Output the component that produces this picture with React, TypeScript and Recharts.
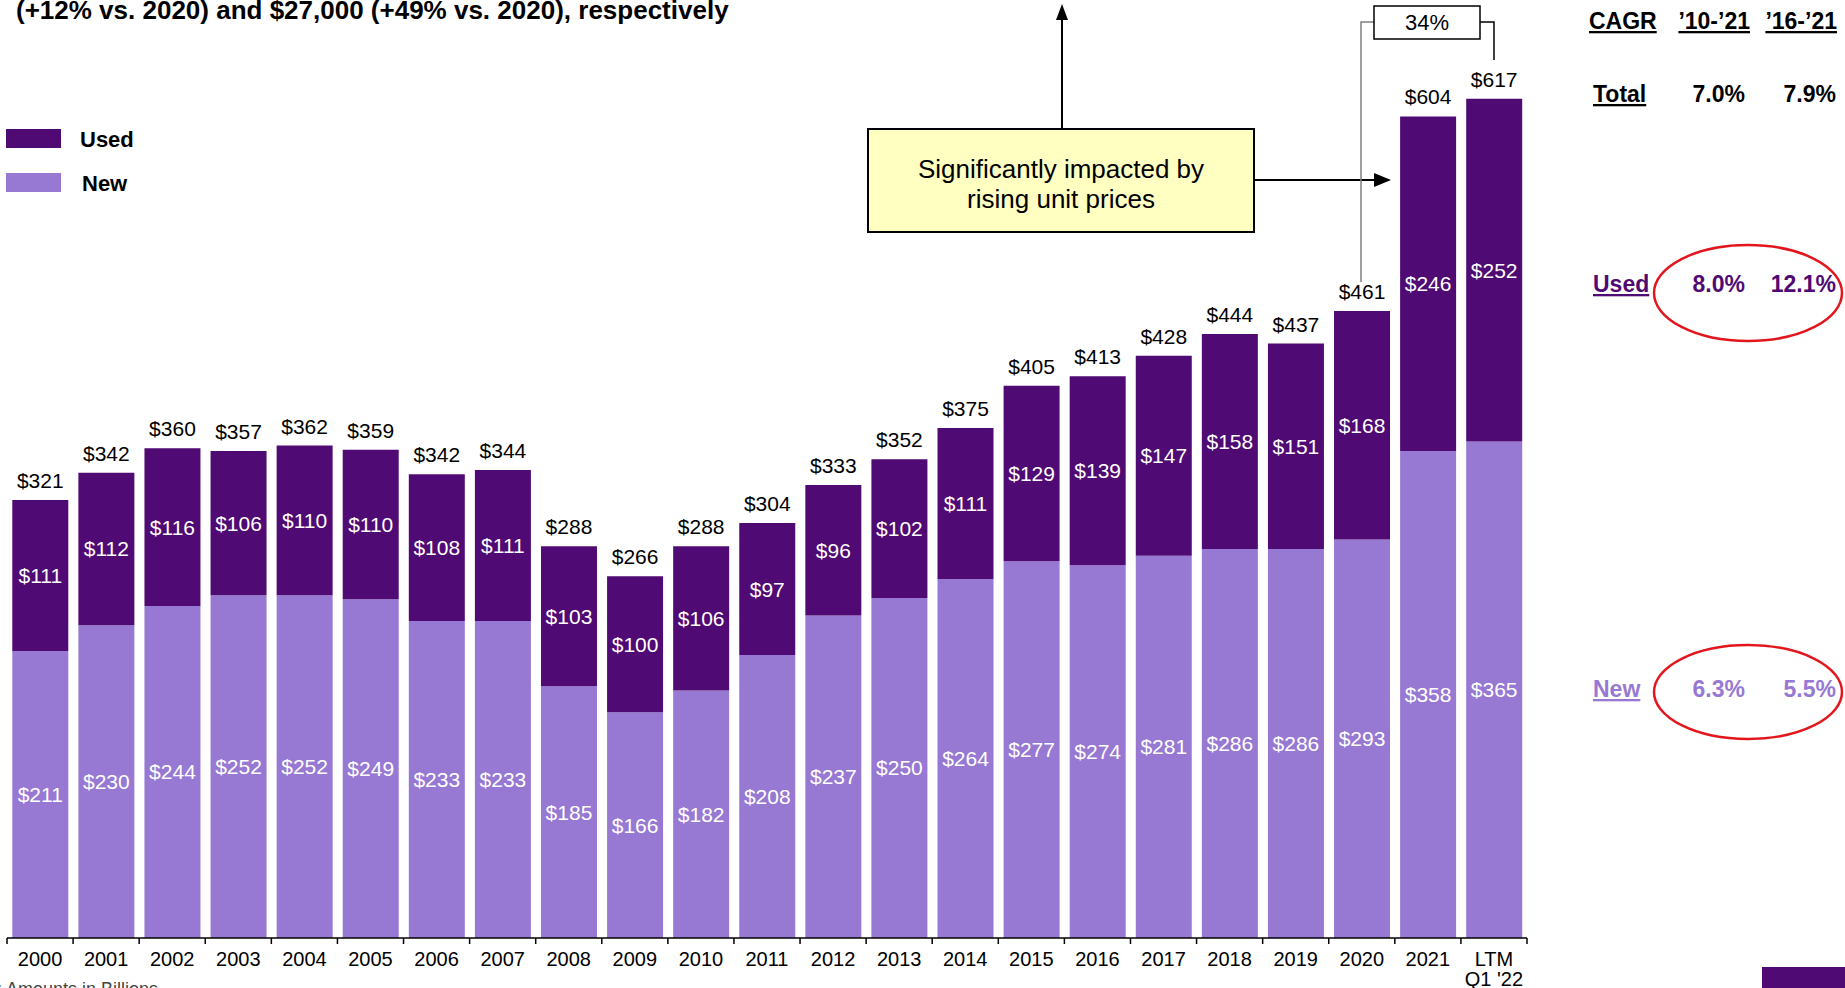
import { BarChart, Bar, XAxis, YAxis, LabelList } from "recharts"

const years = ["2000", "2001", "2002", "2003", "2004", "2005", "2006", "2007", "2008", "2009", "2010", "2011", "2012", "2013", "2014", "2015", "2016", "2017", "2018", "2019", "2020", "2021", "LTM\nQ1 '22"]
const newValues = [211, 230, 244, 252, 252, 249, 233, 233, 185, 166, 182, 208, 237, 250, 264, 277, 274, 281, 286, 286, 293, 358, 365]
const usedValues = [111, 112, 116, 106, 110, 110, 108, 111, 103, 100, 106, 97, 96, 102, 111, 129, 139, 147, 158, 151, 168, 246, 252]
const totals = [321, 342, 360, 357, 362, 359, 342, 344, 288, 266, 288, 304, 333, 352, 375, 405, 413, 428, 444, 437, 461, 604, 617]

const cagrHeaders = ["CAGR", "’10-’21", "’16-’21"]
const cagrRows = [
  { label: "Total", a: "7.0%", b: "7.9%" },
  { label: "Used", a: "8.0%", b: "12.1%" },
  { label: "New", a: "6.3%", b: "5.5%" },
]

const data = years.map((year, i) => ({ year, new: newValues[i], used: usedValues[i], total: totals[i] }))

const W = 1845
const H = 988
const LEFT = 7
const RIGHT = 318
const AXIS_Y = 938
const BAND = (W - LEFT - RIGHT) / years.length
const USED = "#500a73"
const NEW = "#9779d3"
const FONT = "'Liberation Sans', Arial, sans-serif"

const money = (v: any) => `$${v}`

function YearTick(props: any) {
  const { x, payload, index } = props
  const lines = String(payload.value).split("\n")
  return (
    <g>
      <line x1={x - BAND / 2} x2={x - BAND / 2} y1={AXIS_Y} y2={AXIS_Y + 6} stroke="#000" strokeWidth={1.5} />
      {index === years.length - 1 && (
        <line x1={x + BAND / 2} x2={x + BAND / 2} y1={AXIS_Y} y2={AXIS_Y + 6} stroke="#000" strokeWidth={1.5} />
      )}
      {lines.map((l, i) => (
        <text key={i} x={x} y={AXIS_Y + 28 + i * 20} textAnchor="middle" fontSize={20} fontFamily={FONT} fill="#000">
          {l}
        </text>
      ))}
    </g>
  )
}

export default function App() {
  const rowY = [102, 292, 697]
  const rowColor = ["#000", USED, NEW]
  const ul = { textDecoration: "underline" }
  return (
    <div style={{ position: "absolute", left: 0, top: 0, width: W, height: H, background: "#fff", overflow: "hidden", fontFamily: FONT }}>
      <BarChart
        width={W}
        height={H}
        data={data}
        margin={{ top: 13, right: RIGHT, bottom: 0, left: LEFT }}
        barCategoryGap="8%"
      >
        <XAxis
          dataKey="year"
          height={H - AXIS_Y}
          interval={0}
          tickLine={false}
          axisLine={{ stroke: "#000", strokeWidth: 1.5 }}
          tick={<YearTick />}
        />
        <YAxis hide domain={[0, 680]} />
        <Bar dataKey="new" stackId="a" fill={NEW} isAnimationActive={false}>
          <LabelList dataKey="new" position="center" formatter={money} fill="#fff" fontSize={21} fontFamily={FONT} />
        </Bar>
        <Bar dataKey="used" stackId="a" fill={USED} isAnimationActive={false}>
          <LabelList dataKey="used" position="center" formatter={money} fill="#fff" fontSize={21} fontFamily={FONT} />
          <LabelList dataKey="total" position="top" offset={12} formatter={money} fill="#000" fontSize={21} fontFamily={FONT} />
        </Bar>
      </BarChart>

      <svg width={W} height={H} style={{ position: "absolute", left: 0, top: 0, pointerEvents: "none" }} fontFamily={FONT}>
        {/* title fragment */}
        <text x={16} y={19} fontSize={26} fontWeight="bold" fill="#000">
          (+12% vs. 2020) and $27,000 (+49% vs. 2020), respectively
        </text>

        {/* legend */}
        <rect x={6} y={129} width={55} height={19} fill={USED} />
        <text x={80} y={147} fontSize={22} fontWeight="bold">Used</text>
        <rect x={6} y={173} width={55} height={19} fill={NEW} />
        <text x={82} y={191} fontSize={22} fontWeight="bold">New</text>

        {/* callout */}
        <line x1={1062} y1={129} x2={1062} y2={18} stroke="#000" strokeWidth={2} />
        <polygon points="1062,4 1056,20 1068,20" fill="#000" />
        <line x1={1254} y1={180} x2={1376} y2={180} stroke="#000" strokeWidth={2} />
        <polygon points="1391,180 1374,173 1374,187" fill="#000" />
        <rect x={868} y={129} width={386} height={103} fill="#ffffc2" stroke="#000" strokeWidth={2} />
        <text x={1061} y={178} textAnchor="middle" fontSize={26}>Significantly impacted by</text>
        <text x={1061} y={208} textAnchor="middle" fontSize={26}>rising unit prices</text>

        {/* 34% bracket */}
        <polyline points="1361,282 1361,22 1374,22" fill="none" stroke="#808080" strokeWidth={1.5} />
        <polyline points="1480,22 1494,22 1494,60" fill="none" stroke="#000" strokeWidth={1.5} />
        <rect x={1374} y={6} width={106} height={33} fill="#fff" stroke="#000" strokeWidth={1.5} />
        <text x={1427} y={30} textAnchor="middle" fontSize={22}>34%</text>

        {/* CAGR table */}
        <text x={1589} y={29} fontSize={23} fontWeight="bold" style={ul}>{cagrHeaders[0]}</text>
        <text x={1750} y={29} textAnchor="end" fontSize={23} fontWeight="bold" style={ul}>{cagrHeaders[1]}</text>
        <text x={1837} y={29} textAnchor="end" fontSize={23} fontWeight="bold" style={ul}>{cagrHeaders[2]}</text>
        {cagrRows.map((r, i) => (
          <g key={r.label} fill={rowColor[i]} fontSize={23} fontWeight="bold">
            <text x={1593} y={rowY[i]} style={ul}>{r.label}</text>
            <text x={1745} y={rowY[i]} textAnchor="end">{r.a}</text>
            <text x={1836} y={rowY[i]} textAnchor="end">{r.b}</text>
          </g>
        ))}
        <ellipse cx={1748} cy={293} rx={94} ry={48} fill="none" stroke="#e3161d" strokeWidth={2.5} />
        <ellipse cx={1748} cy={692} rx={94} ry={47} fill="none" stroke="#e3161d" strokeWidth={2.5} />

        {/* footnote + corner mark */}
        <text x={-3} y={995} fontSize={18} fill="#444">: Amounts in Billions</text>
        <rect x={1762} y={967} width={83} height={21} fill={USED} />
      </svg>
    </div>
  )
}
